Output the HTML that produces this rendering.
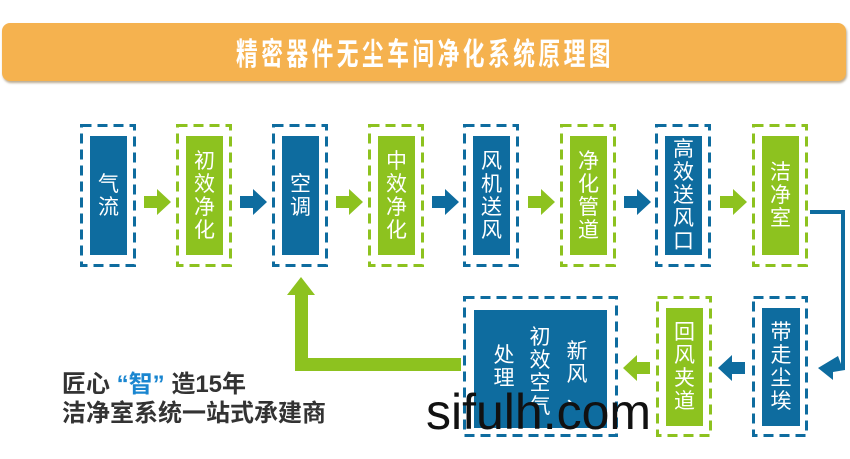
<!DOCTYPE html>
<html><head><meta charset="utf-8"><style>
body{margin:0;width:850px;height:459px;background:#fff;position:relative;overflow:hidden;font-family:"Liberation Sans","Noto Sans CJK SC",sans-serif}
.a{position:absolute}
.title{left:2px;top:23px;width:844px;height:58px;background:#f5b24f;border-radius:8px;box-shadow:1px 2px 2px rgba(120,90,40,.5)}
.tt{left:0;width:850px;top:32px;text-align:center;color:#fff;font-size:31px;letter-spacing:5px;font-family:"Noto Sans CJK SC",sans-serif;font-weight:bold;transform:scaleX(0.7);line-height:40px}
.in{display:flex;flex-direction:column;align-items:center;justify-content:center;color:#fff;font-size:21px;line-height:23px}
.bi{background:#0e6c9f}.gi{background:#8dc21f}
</style></head><body>
<div class="a title"></div>
<div class="a tt">精密器件无尘车间净化系统原理图</div>

<svg class="a" style="left:0;top:0" width="850" height="459">
<g fill="none" stroke-width="3" stroke-dasharray="10 6">
<rect x="81.5" y="125.5" width="53" height="140" stroke="#0e6c9f"/>
<rect x="177.5" y="125.5" width="53" height="140" stroke="#8dc21f"/>
<rect x="273.5" y="125.5" width="53" height="140" stroke="#0e6c9f"/>
<rect x="369.5" y="125.5" width="53" height="140" stroke="#8dc21f"/>
<rect x="464.5" y="125.5" width="53" height="140" stroke="#0e6c9f"/>
<rect x="561.5" y="125.5" width="53" height="140" stroke="#8dc21f"/>
<rect x="656.5" y="125.5" width="53" height="140" stroke="#0e6c9f"/>
<rect x="753.5" y="125.5" width="53" height="140" stroke="#8dc21f"/>
<rect x="753.5" y="297.5" width="53" height="138" stroke="#0e6c9f"/>
<rect x="657.5" y="297.5" width="53" height="138" stroke="#8dc21f"/>
<rect x="464.5" y="297.5" width="152" height="138" stroke="#0e6c9f"/>
</g>
</svg>

<div class="a in bi" style="left:90px;top:136px;width:37px;height:119px">气<br>流</div>
<div class="a in gi" style="left:186px;top:136px;width:37px;height:119px">初<br>效<br>净<br>化</div>
<div class="a in bi" style="left:282px;top:136px;width:37px;height:119px">空<br>调</div>
<div class="a in gi" style="left:378px;top:136px;width:37px;height:119px">中<br>效<br>净<br>化</div>
<div class="a in bi" style="left:473px;top:136px;width:37px;height:119px">风<br>机<br>送<br>风</div>
<div class="a in gi" style="left:570px;top:136px;width:37px;height:119px">净<br>化<br>管<br>道</div>
<div class="a in bi" style="left:665px;top:136px;width:37px;height:119px">高<br>效<br>送<br>风<br>口</div>
<div class="a in gi" style="left:762px;top:136px;width:37px;height:119px">洁<br>净<br>室</div>

<div class="a in bi" style="left:762px;top:308px;width:38px;height:118px">带<br>走<br>尘<br>埃</div>
<div class="a in gi" style="left:666px;top:308px;width:37px;height:118px">回<br>风<br>夹<br>道</div>
<div class="a bi" style="left:474px;top:310px;width:133px;height:118px"></div>
<div class="a in" style="left:565px;top:340px;width:24px">新<br>风<br>、</div>
<div class="a in" style="left:528px;top:326px;width:24px">初<br>效<br>空<br>气</div>
<div class="a in" style="left:492px;top:344px;width:24px">处<br>理</div>

<svg class="a" style="left:0;top:0" width="850" height="459">
<g fill="#8dc21f">
<path d="M144 196h13v-7l14 13-14 13v-7h-13z"/>
<path d="M336 196h13v-7l14 13-14 13v-7h-13z"/>
<path d="M528 196h13v-7l14 13-14 13v-7h-13z"/>
<path d="M720 196h13v-7l14 13-14 13v-7h-13z"/>
<path d="M650 362h-13v-7l-14 13 14 13v-7h13z"/>
<path d="M461 371H295V295h-8l14-18 14 18h-7V358H461z"/>
</g>
<g fill="#0e6c9f">
<path d="M240 196h13v-7l14 13-14 13v-7h-13z"/>
<path d="M432 196h13v-7l14 13-14 13v-7h-13z"/>
<path d="M624 196h13v-7l14 13-14 13v-7h-13z"/>
<path d="M745 362h-13v-7l-14 13 14 13v-7h13z"/>
<path d="M838 356l-20 12 15 12 0-8 12-2 0-160h-35v4h31v150z"/>
</g>
</svg>

<div class="a" style="left:62px;top:370px;font-size:24px;font-weight:bold;color:#333;line-height:29px">匠心 <span style="color:#1a86d0">“智”</span> 造15年<br>洁净室系统一站式承建商</div>
<div class="a" style="left:426px;top:384px;font-size:50px;color:#111;line-height:56px">sifulh.com</div>
</body></html>
